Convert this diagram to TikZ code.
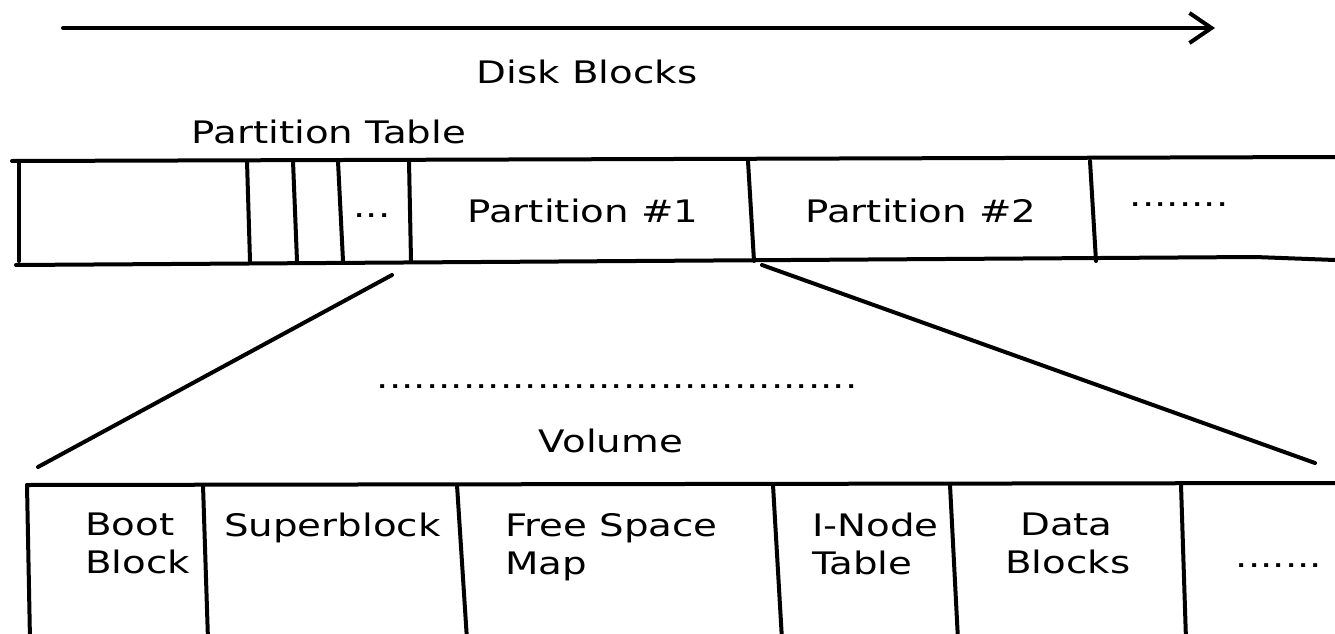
\documentclass[tikz,border=0pt]{standalone}
\usepackage{fontspec}
\setmainfont[FakeStretch=1.25]{DejaVu Sans}
\usetikzlibrary{arrows.meta}
\tikzstyle{pen} = [draw, line width=4pt, line cap=round]
\tikzstyle{arrow} = [pen, -{Straight Barb[length=22pt, width=30pt]}]
\tikzstyle{txt} = [inner sep=0pt, font=\fontsize{31}{38}\selectfont]
\tikzstyle{title} = [txt, anchor=base]
\tikzstyle{cell} = [txt, anchor=north west, align=left]

\begin{document}
\begin{tikzpicture}[x=1pt, y=-1pt]
	\useasboundingbox (0,0) rectangle (1335,634);
	
	% disk blocks
	\coordinate (arrow start) at (63,28);
	\coordinate (arrow end) at (1215,28);
	\path [arrow] (arrow start) -- (arrow end);
	\node [title] at (587,83) (disk) {Disk Blocks};
	\node [title] at (329,143) (ptable) {Partition Table};
	
	% partition band
	\coordinate (pt tl) at (12,161);
	\coordinate (pt tr) at (1335,157);
	\coordinate (pt bl) at (16,265);
	\coordinate (pt bm) at (1255,257);
	\coordinate (pt br) at (1335,260);
	\path [pen] (pt tl) -- (pt tr);
	\path [pen] (pt bl) -- (pt bm) -- (pt br);
	\foreach \xa/\xb in {19/19, 247/250, 293/297, 338/343, 409/411, 748/754, 1090/1096}
		\path [pen] (\xa,161) -- (\xb,261);
	
	\node [title] at (372,217) (more entries) {...};
	\node [title] at (583,222) (part one) {Partition \#1};
	\node [title] at (921,222) (part two) {Partition \#2};
	\node [title] at (1179,206) (more parts) {........};
	
	% zoom into partition #1
	\coordinate (zoom left top) at (392,275);
	\coordinate (zoom left bottom) at (38,467);
	\coordinate (zoom right top) at (762,265);
	\coordinate (zoom right bottom) at (1315,463);
	\path [pen] (zoom left top) -- (zoom left bottom);
	\path [pen] (zoom right top) -- (zoom right bottom);
	
	\node [title] at (617,388) (gap) {.......................................};
	\node [title] at (611,452) (volume) {Volume};
	
	% volume band
	\coordinate (vol tl) at (27,485);
	\coordinate (vol tr) at (1335,483);
	\path [pen] (vol tl) -- (vol tr);
	\foreach \xa/\xb in {27/30, 203/208, 457/467, 773/782, 950/958, 1181/1186}
		\path [pen] (\xa,485) -- (\xb,640);
	
	\node [cell] at (85,513) (boot) {Boot\\Block};
	\node [cell] at (224,513) (super) {Superblock};
	\node [cell] at (505,513) (free) {Free Space\\Map};
	\node [cell] at (812,513) (inode) {I-Node\\Table};
	\node [cell] at (1005,513) (data) {\hspace*{15pt}Data\\Blocks};
	\node [title] at (1279,567) (more blocks) {.......};
	
\end{tikzpicture}
\end{document}
